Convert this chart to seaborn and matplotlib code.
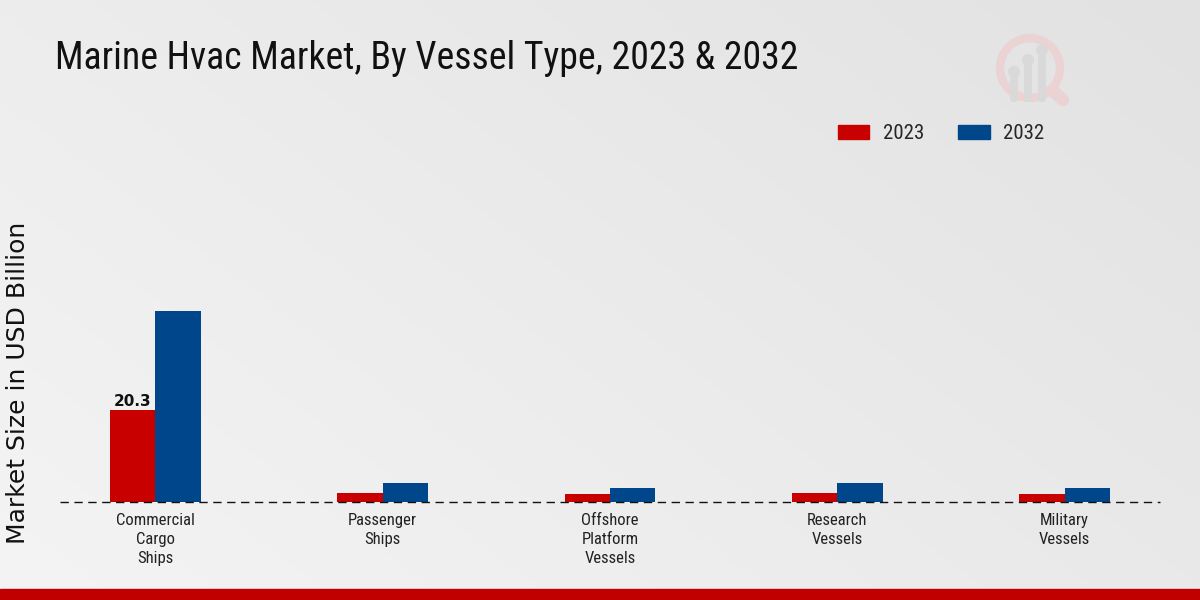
import matplotlib
matplotlib.use("Agg")
import matplotlib.pyplot as plt
from matplotlib import font_manager
import seaborn as sns
import pandas as pd
import numpy as np
from matplotlib.patches import Rectangle, Circle, FancyBboxPatch
from matplotlib.lines import Line2D

categories = ["Commercial\nCargo\nShips", "Passenger\nShips", "Offshore\nPlatform\nVessels",
              "Research\nVessels", "Military\nVessels"]
years = ["2023", "2032"]
values_2023 = [20.3, 2.0, 1.7, 2.0, 1.7]
values_2032 = [42.3, 4.2, 3.2, 4.2, 3.2]
colors = ["#c80000", "#00468b"]

df = pd.DataFrame({
    "Vessel": categories * 2,
    "Year": [years[0]] * len(categories) + [years[1]] * len(categories),
    "Value": values_2023 + values_2032,
})

names = {f.name for f in font_manager.fontManager.ttflist}
narrow = None
for cand in ["Liberation Sans Narrow", "Roboto Condensed", "DejaVu Sans Condensed", "Open Sans Condensed"]:
    if cand in names:
        narrow = cand
        break
if narrow is None:
    narrow = "Roboto"
scale = 1.0 if narrow != "Roboto" else 0.9

sns.set_theme(style="white")
plt.rcParams["font.family"] = ["DejaVu Sans"]

fig = plt.figure(figsize=(12, 6), dpi=100)
bg = fig.add_axes([0, 0, 1, 1], zorder=-10)
grad = np.linspace(0, 1, 256)
X, Y = np.meshgrid(grad, grad)
Z = 0.6 * X + 0.4 * (1 - Y)
bg.imshow(Z, cmap=matplotlib.colors.LinearSegmentedColormap.from_list("g", ["#f4f4f4", "#e2e2e2"]),
          extent=[0, 1200, 0, 600], aspect="auto", origin="lower")
bg.set_xlim(0, 1200)
bg.set_ylim(600, 0)
bg.set_axis_off()

# faint watermark logo (decoration)
bg.add_patch(Circle((1030, 68), 30, fill=False, edgecolor="#ebd3d3", linewidth=6))
bg.add_line(Line2D([1052, 1063], [90, 100], color="#ebd3d3", linewidth=9, solid_capstyle="round"))
for bx, top in [(1014, 76), (1028, 64), (1042, 54)]:
    bg.add_patch(FancyBboxPatch((bx - 4, top), 8, 102 - top, boxstyle="round,pad=0,rounding_size=3",
                                facecolor="#d9d9d9", edgecolor="none"))
    bg.add_patch(Circle((bx, top - 4), 6, facecolor="#d9d9d9", edgecolor="none"))

fig.patches.append(Rectangle((0, 0), 1, 11 / 600, transform=fig.transFigure, color="#c00000", zorder=5))

ax = fig.add_axes([0.05, 0.1633, 0.9167, 0.5867])
ax.set_facecolor("none")
sns.barplot(data=df, x="Vessel", y="Value", hue="Year", palette=colors, width=0.4,
            ax=ax, saturation=1, legend=False, edgecolor="none")
ax.set_xlim(-0.42, 4.42)
ax.set_ylim(0, 77.9)
for s in ax.spines.values():
    s.set_visible(False)
ax.axhline(0, color="#111111", linestyle=(0, (6, 4)), linewidth=1.0, zorder=5, clip_on=False)
ax.set_yticks([])
ax.set_xlabel("")
ax.set_ylabel("")
ax.tick_params(axis="x", length=4, width=0.8, color="#444444", labelcolor="#222222", pad=4)
for lbl in ax.get_xticklabels():
    lbl.set_fontfamily(narrow)
    lbl.set_fontsize(12 * scale)
    lbl.set_linespacing(1.32)

fig.text(0.015, 0.362, "Market Size in USD Billion", rotation=90, fontsize=18, color="#111111",
         va="center", ha="center")

ax.bar_label(ax.containers[0], labels=["20.3", "", "", "", ""], fontsize=11, fontweight="bold",
             color="#111111", padding=1)

fig.text(0.046, 0.903, "Marine Hvac Market, By Vessel Type, 2023 & 2032",
         fontsize=27.2 * scale, family=narrow, color="#111111", va="center", ha="left")

handles = [Rectangle((0, 0), 1, 1, color=c) for c in colors]
fig.legend(handles, years, loc="center", bbox_to_anchor=(0.784, 0.777), ncol=2, frameon=False,
           handlelength=1.53, handleheight=0.63, columnspacing=1.63, handletextpad=0.63,
           prop={"family": narrow, "size": 15 * scale})

fig.savefig("out.png", dpi=100)
